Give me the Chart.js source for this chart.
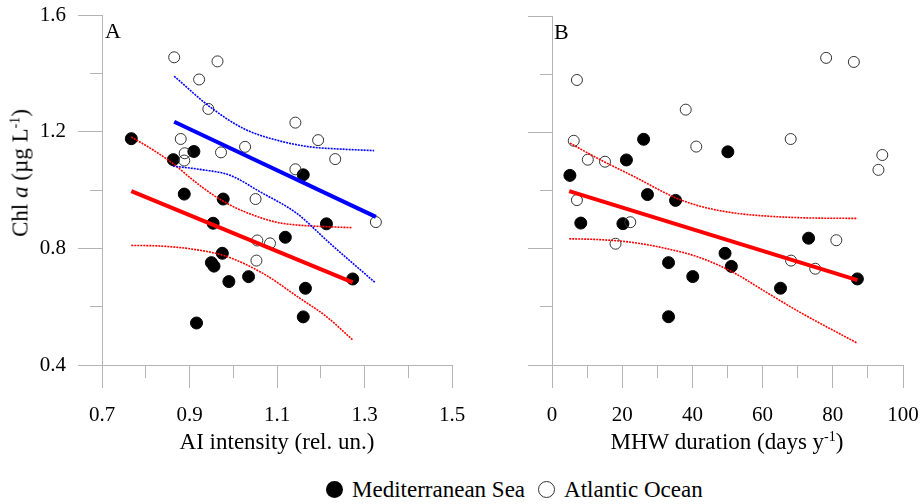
<!DOCTYPE html>
<html>
<head>
<meta charset="utf-8">
<script src="https://cdn.jsdelivr.net/npm/chart.js@4.4.1/dist/chart.umd.min.js"></script>
<style>
  body { margin: 0; background: #fff; }
  #wrap { position: relative; width: 921px; height: 504px; font-family: 'Liberation Serif', 'Times New Roman', serif; color: #000; }
  #wrap canvas { position: absolute; top: 0; }
  .txt { position: absolute; font-size: 23px; line-height: 1; white-space: nowrap; transform: translate(-50%, -50%); }
  .txt sup { font-size: 14px; vertical-align: 8px; line-height: 0; }
  .letter { position: absolute; font-size: 22px; line-height: 1; }
  #legend { position: absolute; left: 326px; top: 478px; display: flex; align-items: center; font-size: 23px; line-height: 1; }
  .dot { display: inline-block; width: 17px; height: 17px; border-radius: 50%; box-sizing: border-box; margin-right: 9px; }
</style>
</head>
<body>
<div id="wrap">
  <canvas id="chartA" width="470" height="460" style="left:0"></canvas>
  <canvas id="chartB" width="451" height="460" style="left:470px"></canvas>
  <div class="letter" style="left:105px; top:20px">A</div>
  <div class="letter" style="left:554px; top:21px">B</div>
  <div class="txt" style="left:20px; top:173px; transform: translate(-50%, -50%) rotate(-90deg)">Chl <i>a</i> (µg L<sup>-1</sup>)</div>
  <div class="txt" style="left:277px; top:441px">AI intensity (rel. un.)</div>
  <div class="txt" style="left:727px; top:441px">MHW duration (days y<sup>-1</sup>)</div>
  <div id="legend">
    <span class="dot" style="background:#000"></span><span>Mediterranean Sea</span>
    <span class="dot" style="border:1px solid #333; margin-left:13px"></span><span>Atlantic Ocean</span>
  </div>
</div>
<script>
// Panel A - AI intensity
const medAIx = [0.767, 0.863, 0.910, 1.160, 0.888, 0.977, 0.954, 1.213, 1.119, 0.975, 0.950, 0.956, 1.035, 0.990, 1.273, 1.165, 1.160, 0.916];
const medAIy = [1.176, 1.104, 1.132, 1.052, 0.986, 0.969, 0.886, 0.884, 0.838, 0.783, 0.751, 0.739, 0.703, 0.686, 0.695, 0.663, 0.565, 0.544];
const atlAIx = [0.865, 0.964, 0.922, 0.943, 1.142, 1.194, 1.233, 0.880, 0.889, 0.888, 0.972, 1.027, 1.142, 1.051, 1.326, 1.055, 1.084, 1.053];
const atlAIy = [1.455, 1.441, 1.379, 1.278, 1.231, 1.171, 1.106, 1.175, 1.126, 1.101, 1.129, 1.148, 1.071, 0.969, 0.890, 0.827, 0.817, 0.758];

// regression lines + confidence bands
const fitMedAIx = [0.767, 1.273];
const fitMedAIy = [0.996, 0.683];
const upMedAIx = [0.767, 0.817, 0.862, 0.908, 0.954, 1.000, 1.053, 1.100, 1.145, 1.200, 1.271];
const upMedAIy = [1.182, 1.137, 1.091, 1.034, 0.983, 0.943, 0.910, 0.889, 0.880, 0.875, 0.871];
const loMedAIx = [0.767, 0.832, 0.908, 0.985, 1.068, 1.152, 1.213, 1.273];
const loMedAIy = [0.810, 0.808, 0.797, 0.772, 0.714, 0.629, 0.566, 0.486];
const fitAtlAIx = [0.865, 1.326];
const fitAtlAIy = [1.234, 0.908];
const upAtlAIx = [0.865, 0.946, 1.023, 1.099, 1.175, 1.250, 1.322];
const upAtlAIy = [1.390, 1.286, 1.211, 1.171, 1.148, 1.140, 1.135];
const loAtlAIx = [0.862, 0.931, 0.992, 1.061, 1.145, 1.221, 1.324];
const loAtlAIy = [1.082, 1.069, 1.051, 0.994, 0.920, 0.817, 0.683];

// Panel B - MHW duration
const medMHWx = [5.1, 21.2, 26.1, 50.1, 27.2, 35.2, 8.2, 20.2, 73.1, 49.3, 51.1, 33.2, 40.1, 87.0, 65.1, 33.2];
const medMHWy = [1.052, 1.105, 1.176, 1.133, 0.986, 0.966, 0.888, 0.886, 0.836, 0.784, 0.739, 0.752, 0.704, 0.696, 0.664, 0.566];
const atlMHWx = [7.1, 38.1, 78.1, 86.0, 6.2, 41.1, 68.0, 10.2, 15.1, 94.1, 93.0, 7.1, 22.3, 18.1, 68.1, 75.0, 81.0];
const atlMHWy = [1.380, 1.278, 1.456, 1.442, 1.171, 1.151, 1.177, 1.106, 1.099, 1.122, 1.071, 0.967, 0.891, 0.817, 0.759, 0.731, 0.829];

const fitMHWx = [4.9, 87.0];
const fitMHWy = [0.998, 0.692];
const upMHWx = [5.1, 13.7, 23.2, 35.2, 42.2, 51.7, 61.2, 72.0, 87.0];
const upMHWy = [1.163, 1.106, 1.049, 0.975, 0.946, 0.923, 0.912, 0.906, 0.904];
const loMHWx = [4.9, 13.7, 23.2, 32.7, 42.2, 51.7, 61.2, 70.7, 87.0];
const loMHWy = [0.834, 0.831, 0.821, 0.800, 0.769, 0.718, 0.649, 0.581, 0.475];

const axisGray = '#b4b4b4';
const serif = "'Liberation Serif', 'Times New Roman', serif";

function pts(xs, ys) {
    return xs.map((x, i) => ({ x: x, y: ys[i] }));
}

function lineSet(xs, ys, color, dotted) {
    return {
        data: pts(xs, ys),
        showLine: true,
        borderColor: color,
        borderWidth: dotted ? 1.6 : 4,
        borderDash: dotted ? [2, 1] : [],
        cubicInterpolationMode: dotted ? 'monotone' : 'default',
        pointRadius: 0,
        fill: false
    };
}

function pointSet(xs, ys, filled) {
    return {
        data: pts(xs, ys),
        showLine: false,
        pointRadius: filled ? 6 : 5.5,
        pointBorderWidth: 1,
        pointBackgroundColor: filled ? '#000' : 'rgba(0,0,0,0)',
        pointBorderColor: filled ? '#000' : '#333'
    };
}

const yMajor = v => Math.round(v * 10) % 4 === 0;

// tick marks are drawn long and trimmed with a dash, so the label gap
// lives in tickLength instead of ticks.padding (which eats into the chart area)
function yScale(width, showLabels) {
    return {
        min: 0.4,
        max: 1.6,
        afterFit: s => { s.width = width; },
        border: { color: axisGray, width: 1 },
        grid: {
            drawOnChartArea: false,
            tickLength: 36,
            tickColor: axisGray,
            tickBorderDash: c => yMajor(c.tick.value) ? [0, 12, 24] : [0, 24, 12]
        },
        ticks: {
            stepSize: 0.2,
            padding: 0,
            autoSkip: false,
            color: '#000',
            font: { family: serif, size: 21 },
            callback: v => (showLabels && yMajor(v)) ? v.toFixed(1) : ''
        }
    };
}

function xScale(min, max, step, isMajor, fmt) {
    return {
        type: 'linear',
        min: min,
        max: max,
        afterFit: s => { s.height = 95; },
        border: { color: axisGray, width: 1 },
        grid: {
            drawOnChartArea: false,
            tickLength: 38,
            tickColor: axisGray,
            tickBorderDash: c => isMajor(c.tick.value) ? [22, 100] : [12, 100]
        },
        ticks: {
            stepSize: step,
            padding: 0,
            autoSkip: false,
            maxRotation: 0,
            color: '#000',
            font: { family: serif, size: 21 },
            callback: v => isMajor(v) ? fmt(v) : ''
        }
    };
}

const baseOptions = {
    responsive: false,
    animation: false,
    events: [],
    plugins: { legend: { display: false }, tooltip: { enabled: false } }
};

new Chart(document.getElementById('chartA'), {
    type: 'scatter',
    data: {
        datasets: [
            lineSet(fitAtlAIx, fitAtlAIy, '#0000ff', false),
            lineSet(fitMedAIx, fitMedAIy, '#ff0000', false),
            lineSet(upAtlAIx, upAtlAIy, '#0000ff', true),
            lineSet(loAtlAIx, loAtlAIy, '#0000ff', true),
            lineSet(upMedAIx, upMedAIy, '#ff0000', true),
            lineSet(loMedAIx, loMedAIy, '#ff0000', true),
            pointSet(atlAIx, atlAIy, false),
            pointSet(medAIx, medAIy, true)
        ]
    },
    options: {
        ...baseOptions,
        layout: { padding: { left: 0, right: 18, top: 15, bottom: 0 } },
        scales: {
            x: xScale(0.7, 1.5, 0.1, v => Math.round(v * 10) % 2 === 1, v => v.toFixed(1)),
            y: yScale(102, true)
        }
    }
});

new Chart(document.getElementById('chartB'), {
    type: 'scatter',
    data: {
        datasets: [
            lineSet(fitMHWx, fitMHWy, '#ff0000', false),
            lineSet(upMHWx, upMHWy, '#ff0000', true),
            lineSet(loMHWx, loMHWy, '#ff0000', true),
            pointSet(atlMHWx, atlMHWy, false),
            pointSet(medMHWx, medMHWy, true)
        ]
    },
    options: {
        ...baseOptions,
        layout: { padding: { left: 0, right: 18, top: 16, bottom: 0 } },
        scales: {
            x: xScale(0, 100, 10, v => Math.round(v) % 20 === 0, v => String(v)),
            y: yScale(82, false)
        }
    }
});
</script>
</body>
</html>
